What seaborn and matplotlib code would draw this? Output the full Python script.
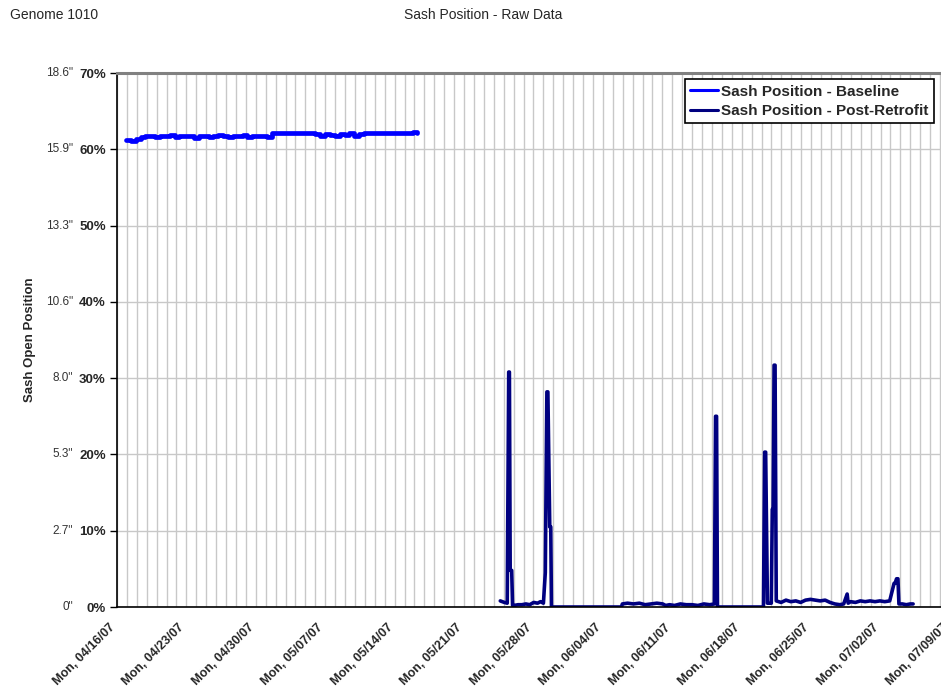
import matplotlib
matplotlib.use("Agg")
import matplotlib.pyplot as plt
import matplotlib.dates as mdates
import matplotlib.transforms as mtransforms
import seaborn as sns
import pandas as pd
import numpy as np

# --- data ---
start_date = pd.Timestamp("2007-04-16")
end_date = pd.Timestamp("2007-07-09")

# baseline: one reading roughly every 12 hours starting 0.9 days after 04/16
baseline_first_day = 0.9
baseline_step_days = 0.49
baseline_pct = [61.2, 61.1, 61.3, 61.6, 61.8, 61.7, 61.6, 61.8, 61.7, 61.9,
                61.6, 61.7, 61.8, 61.7, 61.5, 61.8, 61.7, 61.6, 61.8, 61.9,
                61.7, 61.6, 61.8, 61.7, 61.9, 61.6, 61.7, 61.8, 61.7, 61.6,
                62.1, 62.2, 62.1, 62.2, 62.2, 62.1, 62.2, 62.1, 62.2, 62.0,
                61.8, 62.0, 61.9, 61.7, 62.0, 61.9, 62.1, 61.8, 62.0, 62.1,
                62.2, 62.1, 62.2, 62.2, 62.1, 62.2, 62.2, 62.1, 62.2, 62.3,
                62.2]

# post-retrofit: (days after 04/16, percent open)
retrofit_days = [38.65, 39.06, 39.35, 39.50, 39.57, 39.65, 39.80, 39.89,
                 40.04, 40.44, 40.83, 41.23, 41.62, 42.02, 42.41, 42.71, 43.00,
                 43.19, 43.35, 43.45, 43.64, 43.74, 43.81,
                 50.86, 50.96, 51.48, 52.08, 52.67, 53.26, 53.85, 54.44, 55.03, 55.33,
                 55.72, 56.22, 56.81, 57.40, 57.99, 58.58, 59.18, 59.77, 60.24,
                 60.36, 60.46, 60.55,
                 65.19, 65.31, 65.41, 65.59, 65.98, 66.08, 66.16, 66.26, 66.36, 66.48,
                 66.97, 67.46, 67.95, 68.45, 68.94, 69.43, 69.93, 70.42, 70.91, 71.41, 71.90,
                 72.39, 72.89, 73.28, 73.63, 73.73, 73.97, 74.46, 74.96, 75.45, 75.94,
                 76.44, 76.93, 77.42, 77.92, 78.36, 78.46, 78.61, 78.75, 78.85,
                 79.20, 79.59, 79.99, 80.28]
retrofit_pct = [0.8, 0.6, 0.5, 30.8, 30.8, 4.8, 4.8, 0.2,
                0.2, 0.3, 0.3, 0.4, 0.3, 0.6, 0.5, 0.7, 0.5,
                4.5, 28.2, 28.2, 10.5, 10.5, 0.0,
                0.0, 0.4, 0.5, 0.4, 0.5, 0.3, 0.4, 0.5, 0.4, 0.2,
                0.3, 0.2, 0.4, 0.3, 0.3, 0.2, 0.4, 0.3, 0.4,
                25.0, 25.0, 0.0,
                0.0, 20.3, 20.3, 0.5, 0.5, 12.8, 12.8, 31.7, 31.7, 0.8,
                0.6, 0.9, 0.7, 0.8, 0.6, 0.9, 1.0, 0.9, 0.8, 0.9, 0.6,
                0.4, 0.3, 0.4, 1.7, 0.5, 0.7, 0.6, 0.8, 0.7, 0.8,
                0.7, 0.8, 0.7, 0.8, 3.1, 3.1, 3.7, 3.7, 0.4,
                0.4, 0.3, 0.4, 0.4]

pct_ticks = [0, 10, 20, 30, 40, 50, 60, 70]
inch_labels = ['0"', '2.7"', '5.3"', '8.0"', '10.6"', '13.3"', '15.9"', '18.6"']

# --- frames for seaborn ---
base_times = start_date + pd.to_timedelta(
    baseline_first_day + baseline_step_days * np.arange(len(baseline_pct)), unit="D")
df_base = pd.DataFrame({"time": base_times, "pct": baseline_pct})
df_post = pd.DataFrame({"time": start_date + pd.to_timedelta(retrofit_days, unit="D"),
                        "pct": retrofit_pct})

sns.set_theme(style="white")
plt.rcParams['font.family'] = ['Liberation Sans', 'DejaVu Sans']

fig = plt.figure(figsize=(9.41, 6.98), dpi=100)
# plot area runs slightly past the right edge of the picture, as in the original
ax = fig.add_axes([117 / 941, 1 - 607 / 698, (950 - 117) / 941, (607 - 73) / 698])

sns.lineplot(data=df_base, x="time", y="pct", ax=ax, color="#0000ff",
             linewidth=3.4, drawstyle="steps-post", label="Sash Position - Baseline")
sns.lineplot(data=df_post, x="time", y="pct", ax=ax, color="#000080",
             linewidth=2.6, label="Sash Position - Post-Retrofit")

ax.set_xlim(start_date, end_date)
ax.set_ylim(0, 70)

# x axis: weekly Mondays with daily minor ticks
ax.xaxis.set_major_locator(mdates.WeekdayLocator(byweekday=mdates.MO))
ax.xaxis.set_minor_locator(mdates.DayLocator())
ax.xaxis.set_major_formatter(mdates.DateFormatter("%a, %m/%d/%y"))
ax.tick_params(axis="x", which="major", direction="inout", length=8, width=1,
               color="black", labelsize=9, pad=6)
ax.tick_params(axis="x", which="minor", direction="out", length=4, width=1,
               color="black")
shift = mtransforms.ScaledTranslation(-8 / 100, -1 / 100, fig.dpi_scale_trans)
for lbl in ax.get_xticklabels():
    lbl.set_rotation(45)
    lbl.set_ha("right")
    lbl.set_va("top")
    lbl.set_rotation_mode("anchor")
    lbl.set_fontweight("bold")
    lbl.set_transform(lbl.get_transform() + shift)

# y axis: percent labels plus inch equivalents
ax.set_yticks(pct_ticks)
ax.set_yticklabels([f"{p}%" for p in pct_ticks], fontweight="bold", fontsize=9.5)
ax.tick_params(axis="y", which="major", direction="out", length=5, width=1,
               color="black", pad=3, left=True)
trans = mtransforms.blended_transform_factory(fig.transFigure, ax.transData)
for p, lab in zip(pct_ticks, inch_labels):
    fig.text(73 / 941, p, lab, transform=trans, ha="right", va="center",
             fontsize=8.5, color="#333333")

fig.text(30 / 941, 1 - 340 / 698, "Sash Open Position", rotation=90,
         ha="center", va="center", fontsize=9.5, fontweight="bold")

# grid
ax.grid(True, which="minor", axis="x", color="#c8c8c8", linewidth=1)
ax.grid(True, which="major", axis="x", color="#c8c8c8", linewidth=1)
ax.grid(True, which="major", axis="y", color="#c8c8c8", linewidth=1)
ax.set_axisbelow(True)

for side in ["left", "bottom"]:
    ax.spines[side].set_color("black")
    ax.spines[side].set_linewidth(1.2)
ax.spines["top"].set_color("#808080")
ax.spines["top"].set_linewidth(2.2)
ax.spines["right"].set_color("#808080")
ax.spines["right"].set_linewidth(1.5)

ax.set_xlabel("")
ax.set_ylabel("")

leg = ax.legend(loc="upper right", bbox_to_anchor=(0.981, 0.988), borderaxespad=0,
                frameon=True, fancybox=False, framealpha=1, edgecolor="black",
                prop={"weight": "bold", "size": 11}, handlelength=1.8,
                handletextpad=0.25, labelspacing=0.35, borderpad=0.35)
leg.get_frame().set_linewidth(1.2)
for line in leg.get_lines():
    line.set_linewidth(2.2)

fig.text(9.5 / 941, 1 - 15 / 698, "Genome 1010", ha="left", va="center", fontsize=10)
fig.text(483 / 941, 1 - 15 / 698, "Sash Position - Raw Data", ha="center",
         va="center", fontsize=10)

fig.savefig("out.png", dpi=100)
